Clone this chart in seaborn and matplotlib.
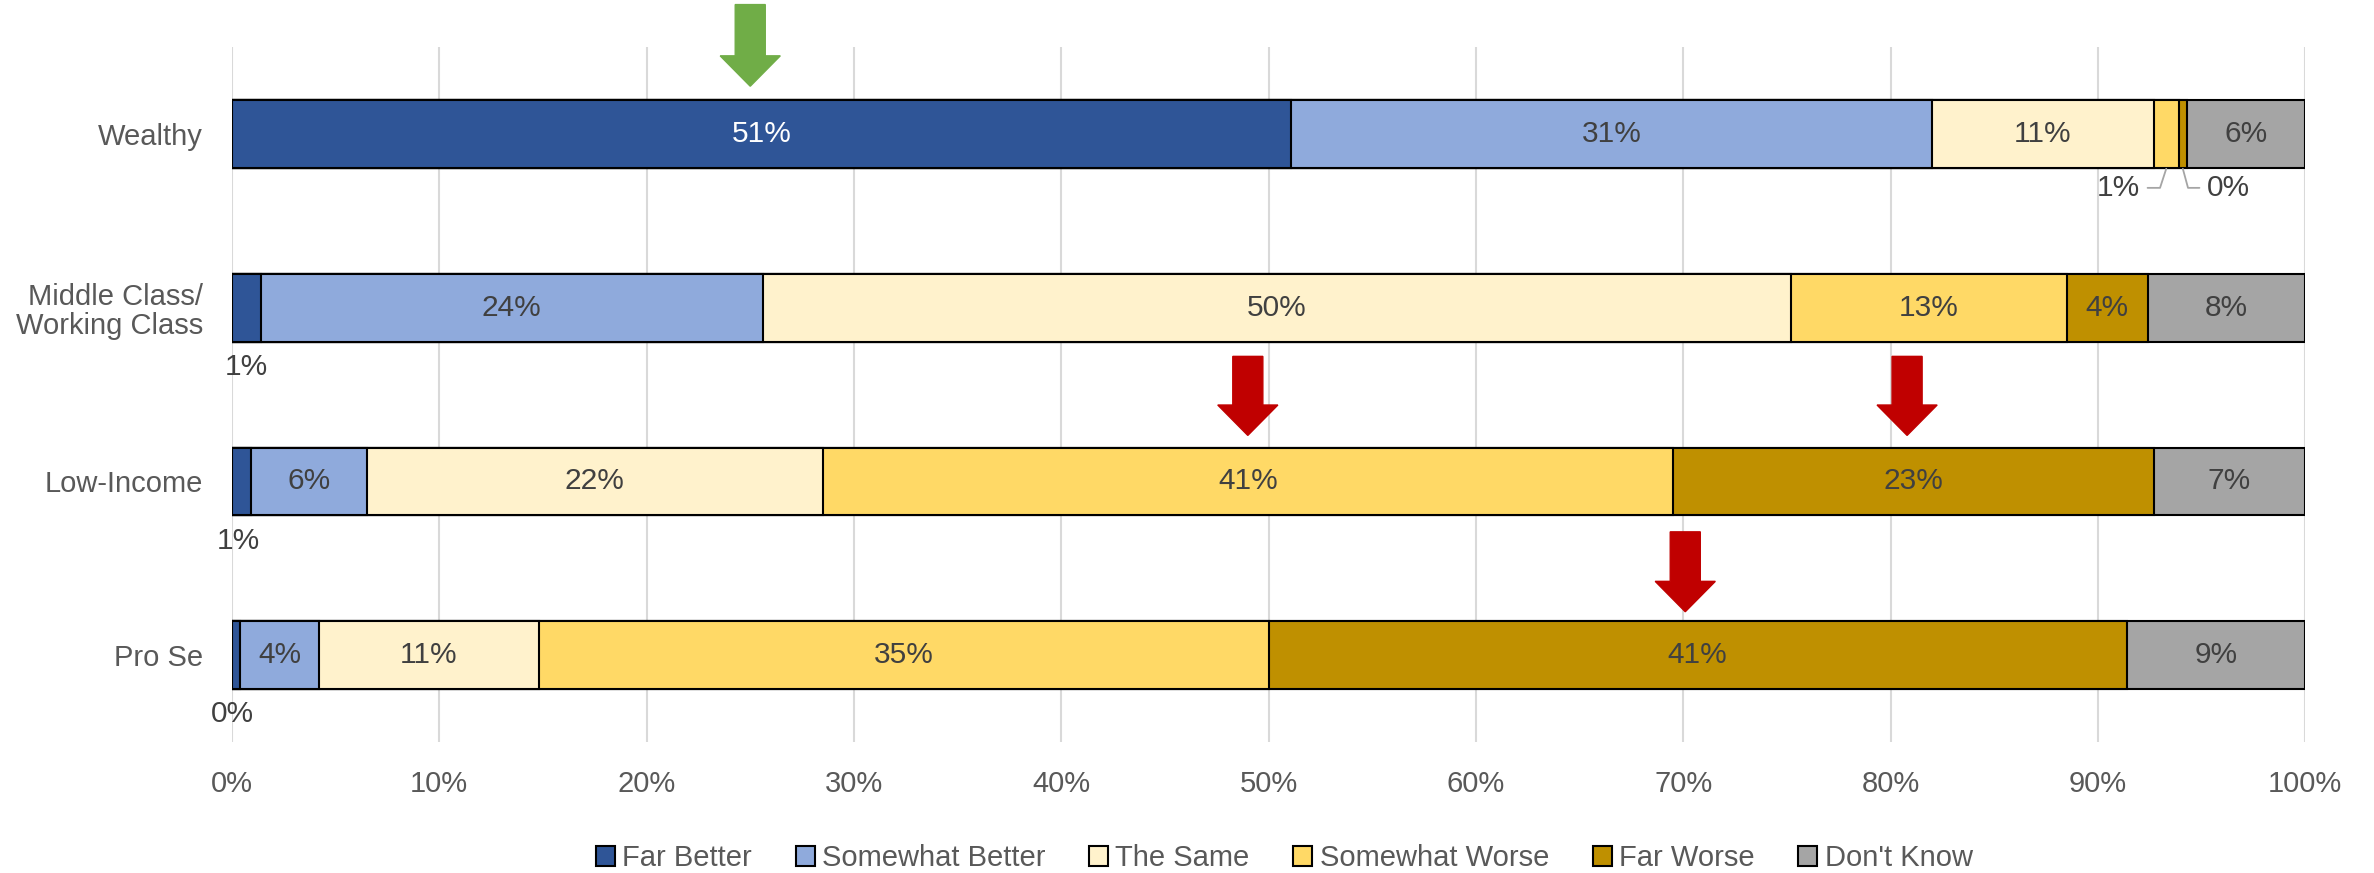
import pandas as pd
import seaborn as sns
import matplotlib.pyplot as plt
from matplotlib.patches import Patch, FancyArrow

groups = ["Wealthy", "Middle Class/\nWorking Class", "Low-Income", "Pro Se"]
answers = ["Far Better", "Somewhat Better", "The Same", "Somewhat Worse", "Far Worse", "Don't Know"]
far_better = [51.1, 1.4, 0.9, 0.4]
somewhat_better = [30.9, 24.2, 5.6, 3.8]
the_same = [10.7, 49.6, 22.0, 10.6]
somewhat_worse = [1.2, 13.3, 41.0, 35.2]
far_worse = [0.4, 3.9, 23.2, 41.4]
dont_know = [5.7, 7.6, 7.3, 8.6]
colors = ["#2F5597", "#8FAADC", "#FFF2CC", "#FFD966", "#BF9000", "#A5A5A5"]

# arrows: (x in %, row position of tail, row position of tip, colour)
arrows = [(25.0, -0.745, -0.275, "#70AD47"),
          (49.0, 1.28, 1.735, "#C00000"),
          (80.8, 1.28, 1.735, "#C00000"),
          (70.1, 2.29, 2.75, "#C00000")]

sns.set_style("white")
plt.rcParams["font.family"] = ["Liberation Sans", "DejaVu Sans"]

series = [far_better, somewhat_better, the_same, somewhat_worse, far_worse, dont_know]
rows = []
for ans, vals in zip(answers, series):
    for g, v in zip(groups, vals):
        rows.append({"group": g, "answer": ans, "value": v})
df = pd.DataFrame(rows)
df["answer"] = pd.Categorical(df["answer"], answers, ordered=True)
df = df.sort_values(["group", "answer"])
df["cum"] = df.groupby("group", observed=True)["value"].cumsum()
df["start"] = df["cum"] - df["value"]

fig = plt.figure(figsize=(23.74, 8.73), dpi=100)
ax = fig.add_axes([0.0977, 0.150, 0.8733, 0.796])

# stacked bars: draw cumulative totals from the right-most segment inward
for ans, col in reversed(list(zip(answers, colors))):
    sub = df[df["answer"] == ans]
    sns.barplot(data=sub, x="cum", y="group", order=groups, orient="h",
                color=col, saturation=1, width=0.39, edgecolor="black",
                linewidth=1.5, ax=ax, zorder=3)

ax.set_xlim(0, 100)
ax.set_ylim(3.5, -0.5)
ax.set_xticks(range(0, 101, 10))
ax.set_xticklabels([f"{t}%" for t in range(0, 101, 10)])
ax.grid(axis="x", color="#D9D9D9", linewidth=1.5, zorder=0)
ax.set_axisbelow(True)
ax.set_xlabel("")
ax.set_ylabel("")
for s in ax.spines.values():
    s.set_visible(False)
ax.tick_params(axis="x", length=0, pad=20, labelsize=21, labelcolor="#595959")
ax.tick_params(axis="y", length=0, pad=21, labelsize=21, labelcolor="#595959")
for lab in ax.get_yticklabels():
    lab.set_linespacing(1.05)

# data labels
LBL = 21.5
ypos = {g: i for i, g in enumerate(groups)}
small_below = {("Middle Class/\nWorking Class", "Far Better"): 0.7,
               ("Low-Income", "Far Better"): 0.3,
               ("Pro Se", "Far Better"): 0.0}
for _, r in df.iterrows():
    y = ypos[r["group"]]
    txt = f"{round(r['value']):.0f}%"
    key = (r["group"], r["answer"])
    if key in small_below:
        ax.text(small_below[key], y + 0.34, txt, ha="center", va="center",
                fontsize=LBL, color="#404040")
    elif r["value"] < 2:
        continue
    else:
        c = "white" if (r["answer"] == "Far Better") else "#404040"
        ax.text(r["start"] + r["value"] / 2, y, txt, ha="center", va="center",
                fontsize=LBL, color=c, zorder=5)

# wealthy callouts for tiny segments
w = df[df["group"] == "Wealthy"].set_index("answer")
sw_mid = w.loc["Somewhat Worse", "start"] + w.loc["Somewhat Worse", "value"] / 2
fw_mid = w.loc["Far Worse", "start"] + w.loc["Far Worse", "value"] / 2
ax.text(91.0, 0.31, "1%", ha="center", va="center", fontsize=LBL, color="#404040")
ax.plot([92.4, 93.0, sw_mid], [0.31, 0.31, 0.2], color="#A5A5A5", lw=1.3, zorder=4)
ax.text(96.3, 0.31, "0%", ha="center", va="center", fontsize=LBL, color="#404040")
ax.plot([fw_mid, 94.35, 94.9], [0.2, 0.31, 0.31], color="#A5A5A5", lw=1.3, zorder=4)

for x, y0, y1, col in arrows:
    ax.add_patch(FancyArrow(x, y0, 0, y1 - y0, width=1.45, head_width=2.9,
                            head_length=0.175, length_includes_head=True,
                            color=col, clip_on=False, zorder=6))

handles = [Patch(facecolor=c, edgecolor="black", linewidth=1.5) for c in colors]
fig.legend(handles, answers, loc="center", bbox_to_anchor=(0.541, 0.017), ncol=6,
           frameon=False, fontsize=21, labelcolor="#595959", handlelength=0.65,
           handleheight=0.65, handletextpad=0.25, columnspacing=1.5)

fig.savefig("out.png", dpi=100)
